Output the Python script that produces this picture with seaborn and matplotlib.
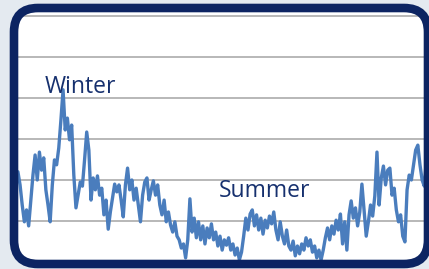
import numpy as np
import matplotlib
matplotlib.use("Agg")
import matplotlib.pyplot as plt
from matplotlib import transforms
from matplotlib.patches import FancyBboxPatch
import seaborn as sns

# daily values (first visible day = 6)
day_start = 6
load = [22.0, 18.8, 13.9, 9.8, 12.7, 8.8, 15.1, 21.2, 26.1, 20.0,
        26.8, 22.4, 25.4, 17.6, 13.9, 9.8, 18.8, 24.9, 23.7, 27.8,
        34.6, 42.0, 32.2, 35.1, 29.8, 33.4, 21.2, 13.2, 16.3, 19.5,
        18.5, 24.9, 31.7, 27.3, 15.1, 20.5, 17.6, 21.0, 16.3, 18.0,
        11.5, 15.1, 8.0, 12.2, 15.6, 19.0, 17.1, 18.8, 15.1, 11.0,
        18.8, 22.9, 17.6, 20.0, 15.1, 18.0, 13.9, 9.8, 16.3, 19.5,
        20.5, 15.1, 17.6, 19.8, 16.3, 18.8, 13.9, 11.5, 15.1, 9.8,
        12.2, 9.0, 7.3, 9.8, 6.3, 5.4, 3.4, 4.4, 1.0, 5.4,
        15.4, 7.3, 10.7, 5.9, 9.8, 5.4, 8.8, 4.4, 8.3, 5.9,
        9.3, 5.4, 7.3, 3.9, 6.3, 2.9, 5.4, 4.1, 5.9, 2.9,
        4.4, 1.7, 3.4, 0.5, 2.4, 6.3, 10.7, 7.8, 11.7, 12.7,
        8.8, 11.5, 7.8, 10.7, 6.8, 10.2, 8.3, 11.2, 9.3, 12.2,
        7.8, 5.4, 9.8, 6.3, 4.4, 7.8, 3.9, 2.9, 5.1, 1.5,
        3.9, 2.0, 4.4, 2.9, 5.9, 3.9, 5.4, 2.4, 3.9, 1.0,
        2.9, 0.5, 2.9, 5.9, 8.3, 5.4, 8.8, 6.8, 10.2, 7.8,
        11.7, 4.4, 9.8, 2.9, 11.5, 14.9, 10.7, 13.2, 8.8, 12.2,
        19.0, 12.7, 6.3, 9.8, 13.9, 11.2, 16.1, 26.8, 13.9, 20.5,
        23.4, 18.8, 22.4, 22.9, 16.3, 18.0, 12.7, 9.8, 11.5, 6.3,
        4.9, 17.6, 21.2, 20.0, 23.7, 27.3, 28.5, 23.7, 20.0, 18.5,
        24.9, 29.8, 32.2]
days = np.arange(day_start, day_start + len(load))

grid_levels = [10, 20, 30, 40, 50, 60]
tick_days = list(range(0, 200, 20))
labels = {"Winter": (0.105, 0.654), "Summer": (0.51, 0.268)}

W, H = 429, 269
navy = "#0c2462"
line_blue = "#4a7dbd"

sns.set_style("white")
plt.rcParams["font.family"] = ["Open Sans", "DejaVu Sans"]

fig = plt.figure(figsize=(W / 100, H / 100), dpi=100)
fig.patch.set_facecolor("#e4eaf0")
ax = fig.add_axes([0, 0, 1, 1])
ax.patch.set_visible(False)

# rounded frame, drawn in pixel units
px = transforms.Affine2D().scale(1 / W, 1 / H) + fig.transFigure
inner = FancyBboxPatch((14, 5), 414, 256, boxstyle="round,pad=0,rounding_size=24",
                       transform=px, facecolor="white", edgecolor="none", zorder=-1)
border = FancyBboxPatch((14, 5), 414, 256, boxstyle="round,pad=0,rounding_size=24",
                        transform=px, facecolor="none", edgecolor=navy,
                        linewidth=6.2, zorder=10)
fig.patches.extend([inner, border])

sns.lineplot(x=days, y=load, ax=ax, color=line_blue, linewidth=2.4)

ax.set_xlim(-2.33, 197.2)
ax.set_ylim(-1.71, 63.9)
ax.set_yticks(grid_levels)
ax.set_xticks(tick_days)
ax.tick_params(axis="x", direction="out", length=3, color="#a0a0a0",
               labelbottom=False)
ax.tick_params(axis="y", length=0, labelleft=False)
ax.yaxis.grid(True, color="#b8b8b8", linewidth=1.4)
ax.xaxis.grid(False)
for s in ["left", "right", "top"]:
    ax.spines[s].set_visible(False)
ax.spines["bottom"].set_position(("data", 0))
ax.spines["bottom"].set_color("#a0a0a0")

for art in ax.lines + ax.get_ygridlines() + ax.xaxis.get_ticklines() + [ax.spines["bottom"]]:
    art.set_clip_path(inner)

for txt, (x, y) in labels.items():
    ax.text(x, y, txt, transform=ax.transAxes, fontsize=16.5, color="#16306e",
            va="baseline", ha="left")

fig.savefig("out.png", dpi=100, facecolor=fig.get_facecolor())
